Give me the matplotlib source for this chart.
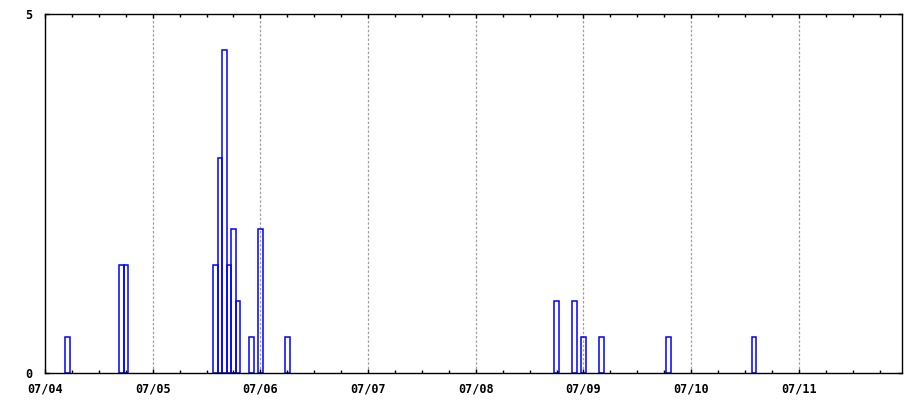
import matplotlib
matplotlib.use("Agg")
import matplotlib.pyplot as plt
from matplotlib.ticker import MultipleLocator

# hour offsets since 07/04 00:00 and bar values
hours = [5, 17, 18, 38, 39, 40, 41, 42, 43, 46, 48, 54, 114, 118, 120, 124, 139, 158]
values = [0.5, 1.5, 1.5, 1.5, 3, 4.5, 1.5, 2, 1, 0.5, 2, 0.5, 1, 1, 0.5, 0.5, 0.5, 0.5]
day_labels = ["07/04", "07/05", "07/06", "07/07", "07/08", "07/09", "07/10", "07/11"]
y_ticks = [0, 5]

fig = plt.figure(figsize=(9.2, 4.0), dpi=100)
ax = fig.add_axes([45/920, 27/400, 857/920, 359/400])

ax.bar(hours, values, width=1.0, align="center", fill=False,
       edgecolor="#0000ff", linewidth=1.1)

day_pos = [24 * i for i in range(len(day_labels))]
for p in day_pos[1:]:
    ax.axvline(p, color="#a0a0a0", linestyle=(0, (2, 1.5)), linewidth=0.9, zorder=0)

ax.set_xlim(0, 191)
ax.set_ylim(0, 5)
ax.set_xticks(day_pos)
ax.set_xticklabels(day_labels)
ax.xaxis.set_minor_locator(MultipleLocator(6))
ax.set_yticks(y_ticks)
ax.set_yticklabels([str(v) for v in y_ticks])

font = dict(family="DejaVu Sans Mono", weight="bold", size=8.5)
for lab in ax.get_xticklabels() + ax.get_yticklabels():
    lab.set_fontfamily(font["family"])
    lab.set_fontweight(font["weight"])
    lab.set_fontsize(font["size"])

ax.tick_params(which="both", direction="in", top=True, right=True, color="black", width=1)
ax.tick_params(which="major", length=3, pad=7)
ax.tick_params(axis="y", which="major", pad=9)
ax.tick_params(which="minor", length=2.5)
for s in ax.spines.values():
    s.set_linewidth(1.0)
    s.set_color("black")

fig.savefig("out.png", dpi=100)
